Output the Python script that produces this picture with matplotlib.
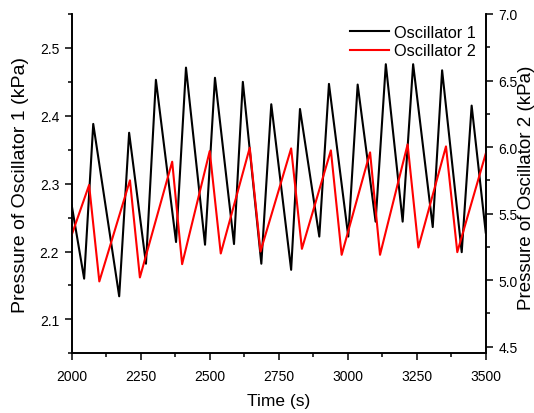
import matplotlib
matplotlib.use('Agg')
import matplotlib.pyplot as plt
from matplotlib.ticker import MultipleLocator, FormatStrFormatter

plt.rcParams['font.family'] = ['Liberation Sans', 'DejaVu Sans']

# Oscillator 1 (left axis, kPa)
t1 = [2000, 2045, 2078, 2172, 2208, 2269, 2305, 2378, 2414, 2483, 2519, 2588,
      2620, 2687, 2723, 2795, 2827, 2897, 2932, 3002, 3036, 3101, 3138, 3199,
      3237, 3308, 3342, 3413, 3449, 3500]
p1 = [2.268, 2.160, 2.388, 2.134, 2.375, 2.182, 2.453, 2.214, 2.471, 2.210, 2.456, 2.211,
      2.450, 2.182, 2.417, 2.173, 2.410, 2.222, 2.447, 2.222, 2.446, 2.244, 2.476, 2.244,
      2.476, 2.236, 2.467, 2.199, 2.415, 2.228]

# Oscillator 2 (right axis, kPa)
t2 = [2000, 2063, 2100, 2211, 2247, 2364, 2400, 2500, 2540, 2645, 2684,
      2795, 2834, 2939, 2978, 3081, 3117, 3217, 3256, 3356, 3397, 3500]
p2 = [5.34, 5.715, 4.99, 5.75, 5.02, 5.89, 5.12, 5.97, 5.20, 5.995, 5.215,
      5.99, 5.235, 5.975, 5.19, 5.96, 5.19, 6.02, 5.245, 6.005, 5.21, 5.95]

fig = plt.figure(figsize=(5.34, 4.14), dpi=100)
ax = fig.add_axes([0.1343, 0.1442, 0.7753, 0.8196])
ax2 = ax.twinx()

l1, = ax.plot(t1, p1, color='black', lw=1.5, label='Oscillator 1')
l2, = ax2.plot(t2, p2, color='red', lw=1.5, label='Oscillator 2')

ax.set_xlim(2000, 3500)
ax.set_ylim(2.05, 2.55)
ax2.set_ylim(4.45, 7.0)

ax.xaxis.set_major_locator(MultipleLocator(250))
ax.xaxis.set_minor_locator(MultipleLocator(125))
ax.yaxis.set_major_locator(MultipleLocator(0.1))
ax.yaxis.set_minor_locator(MultipleLocator(0.05))
ax2.yaxis.set_major_locator(MultipleLocator(0.5))
ax2.yaxis.set_minor_locator(MultipleLocator(0.25))
ax2.yaxis.set_major_formatter(FormatStrFormatter('%.1f'))

for a in (ax, ax2):
    a.spines['top'].set_visible(False)
    for s in a.spines.values():
        s.set_linewidth(1.2)
    a.tick_params(which='major', direction='out', length=5, width=1.1, labelsize=10, pad=4)
    a.tick_params(which='minor', direction='out', length=3, width=1.1)
ax.tick_params(axis='x', pad=6)

ax.set_xlabel('Time (s)', fontsize=12.5)
ax.set_ylabel('Pressure of Oscillator 1 (kPa)', fontsize=14)
ax2.set_ylabel('Pressure of Oscillator 2 (kPa)', fontsize=13.5)
ax.xaxis.set_label_coords(0.5, -0.118)
ax.yaxis.set_label_coords(-0.104, 0.5)
ax2.yaxis.set_label_coords(1.078, 0.49)

ax.legend([l1, l2], ['Oscillator 1', 'Oscillator 2'], loc='upper right',
          bbox_to_anchor=(0.975, 0.968), frameon=False, fontsize=11.7,
          handlelength=2.4, handletextpad=0.3, labelspacing=0.22,
          borderpad=0, borderaxespad=0)

fig.savefig('out.png', dpi=100)
